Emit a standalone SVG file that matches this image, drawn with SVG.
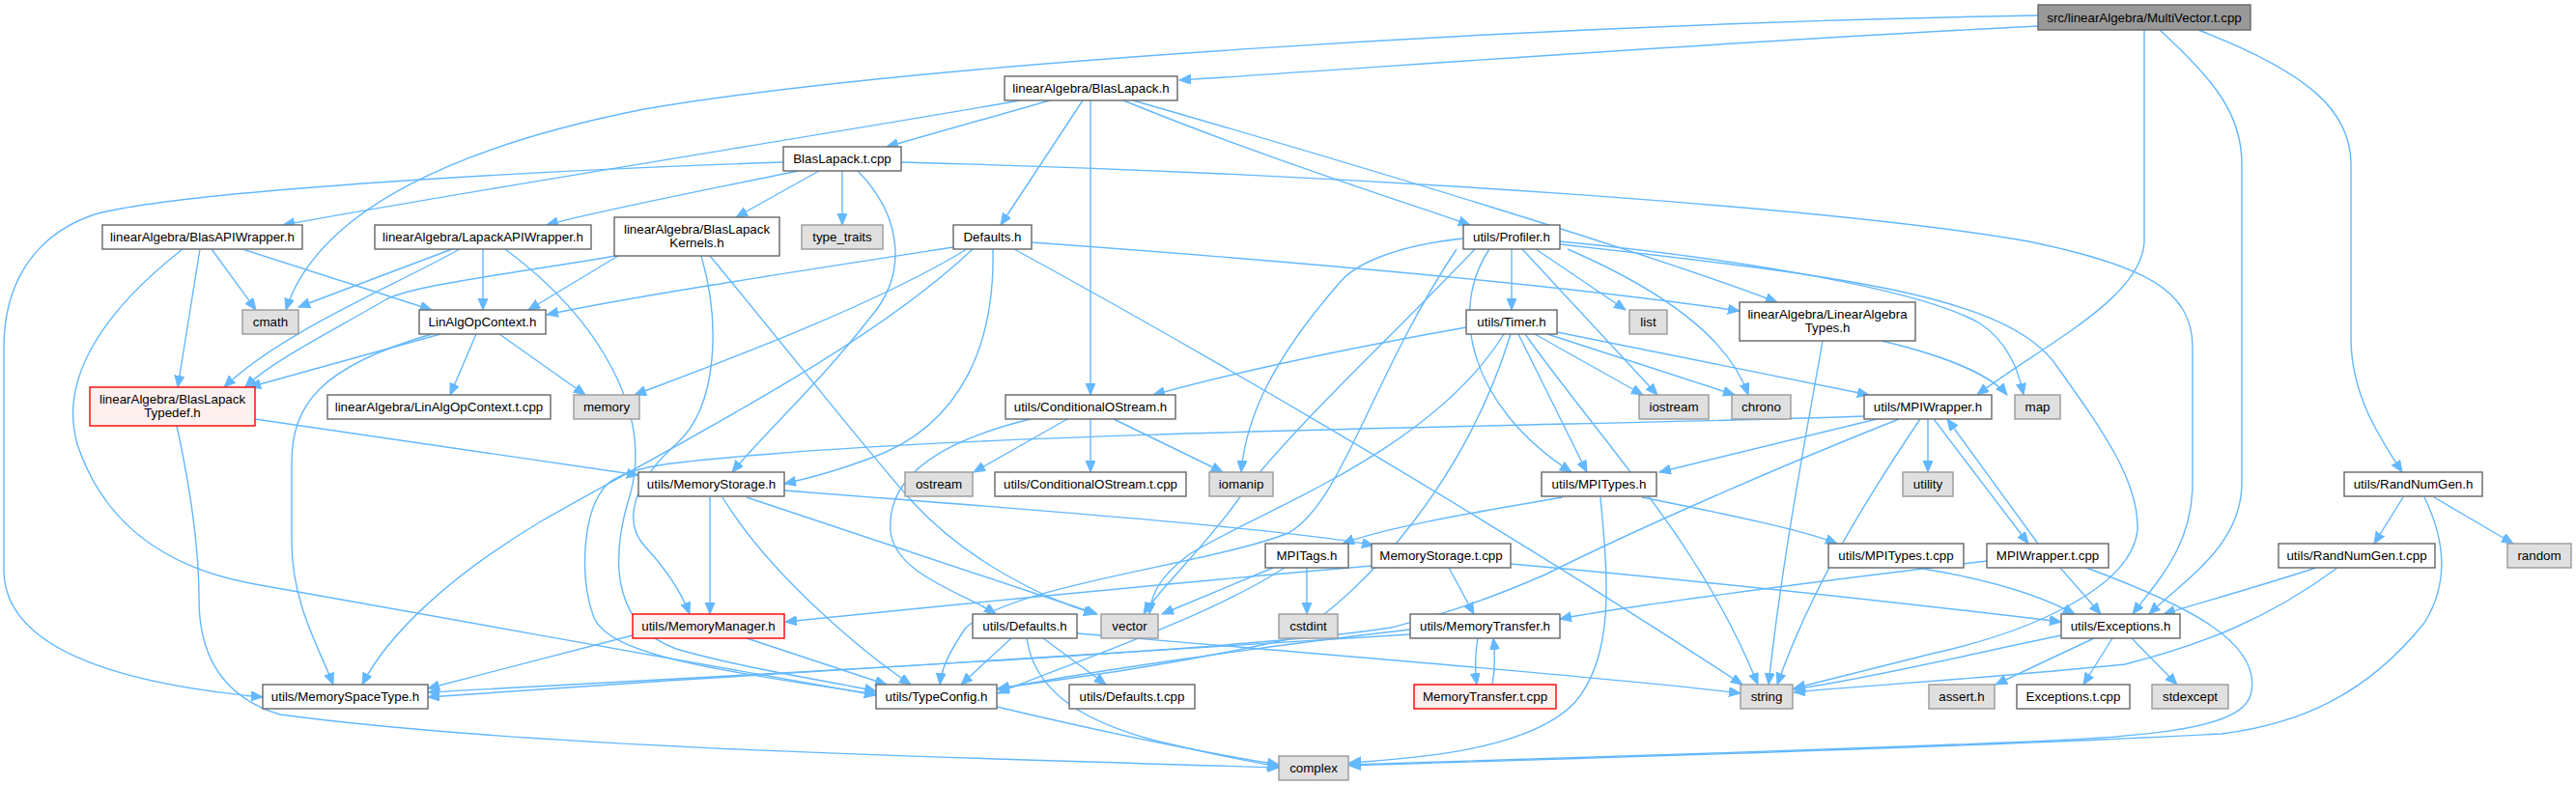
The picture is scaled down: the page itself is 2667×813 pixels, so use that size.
<svg xmlns="http://www.w3.org/2000/svg" width="2667" height="813" viewBox="0 0 2667 813">
<defs>
<marker id="a" markerWidth="14" markerHeight="11" refX="12" refY="5" orient="auto" markerUnits="userSpaceOnUse"><path d="M0,0 L12,5 L0,10 z" fill="#63b8ff" stroke="#63b8ff" stroke-width="1"/></marker>
<style>
.e path{fill:none;stroke:#63b8ff;stroke-width:1.4;marker-end:url(#a)}
.n rect{fill:#ffffff;stroke:#666666;stroke-width:1.4}
.g rect{fill:#e0e0e0;stroke:#999999;stroke-width:1.4}
.r rect{fill:#fff0f0;stroke:#ff0000;stroke-width:1.4}
.root rect{fill:#999999;stroke:#666666;stroke-width:1.4}
text{font-family:"Liberation Sans",Arial,sans-serif;font-size:13.33px;text-anchor:middle;fill:#000000}
</style>
</defs>
<rect width="2667" height="813" fill="#ffffff"/>
<g id="edges" class="e">
<path d="M2110,27 C1750,45 1400,72 1221,83"/>
<path d="M2110,16 C1600,25 950,65 667,113 C480,150 330,215 296,321"/>
<path d="M2220,31 L2220,250 C2218,310 2110,360 2047,409"/>
<path d="M2236,31 C2295,85 2321,120 2321,170 L2321,500 C2321,565 2262,600 2225,636"/>
<path d="M2276,31 C2390,75 2434,115 2434,170 L2434,350 C2434,410 2465,455 2487,489"/>
<path d="M1056,104 C900,132 500,195 293,233"/>
<path d="M1087,104 L918,152"/>
<path d="M1121,104 L1036,233"/>
<path d="M1129,104 L1129,409"/>
<path d="M1163,104 C1300,160 1450,208 1522,233"/>
<path d="M1173,104 C1420,175 1700,260 1840,313"/>
<path d="M811,168 C600,175 200,195 98,222 C30,245 4,300 4,360 L4,590 C4,660 90,705 272,722"/>
<path d="M826,177 C740,195 620,218 566,233"/>
<path d="M848,177 L762,225"/>
<path d="M872,177 L872,233"/>
<path d="M888,177 C935,225 940,285 900,330 C850,395 790,450 758,489"/>
<path d="M933,168 C1400,180 1900,215 2100,250 C2220,275 2270,300 2270,360 L2270,500 C2270,565 2235,600 2208,636"/>
<path d="M207,258 L184,401"/>
<path d="M219,258 L265,321"/>
<path d="M251,258 L447,321"/>
<path d="M189,258 C110,320 60,390 80,460 C110,550 180,590 264,605 C450,640 750,690 907,720"/>
<path d="M468,258 L309,318"/>
<path d="M476,258 C400,300 290,345 232,401"/>
<path d="M500,258 L500,321"/>
<path d="M523,258 C620,330 680,430 650,520 C630,590 640,650 700,672 C780,695 860,705 907,716"/>
<path d="M640,265 L547,321"/>
<path d="M650,263 C520,285 430,295 400,310 C340,345 280,375 254,401"/>
<path d="M726,265 C745,330 745,420 700,460 C655,500 645,540 667,565 C690,590 706,615 714,636"/>
<path d="M735,265 C830,380 900,470 945,520 C1000,580 1080,620 1134,636"/>
<path d="M456,346 L258,401"/>
<path d="M493,346 L466,409"/>
<path d="M517,346 L606,409"/>
<path d="M447,346 C330,380 302,420 302,480 L302,560 C302,625 330,670 345,709"/>
<path d="M183,441 C198,510 206,570 206,620 C206,690 240,725 290,740 C550,775 1000,785 1324,795"/>
<path d="M264,434 L661,492"/>
<path d="M987,256 C800,285 650,308 566,326"/>
<path d="M1068,251 C1400,275 1650,300 1801,322"/>
<path d="M1001,258 C900,320 720,385 657,409"/>
<path d="M1007,258 C900,360 700,460 560,540 C460,600 400,660 375,709"/>
<path d="M1028,258 C1030,350 1000,440 900,475 C860,490 830,497 812,501"/>
<path d="M1050,258 C1200,340 1500,510 1804,709"/>
<path d="M1515,247 C1440,255 1400,275 1385,295 C1320,370 1290,430 1285,489"/>
<path d="M1565,258 L1565,321"/>
<path d="M1590,258 L1683,321"/>
<path d="M1576,258 L1716,409"/>
<path d="M1623,258 C1720,300 1790,350 1810,409"/>
<path d="M1615,250 C1800,268 1990,300 2050,335 C2080,355 2090,385 2095,409"/>
<path d="M1615,253 C1900,285 2080,305 2130,380 C2180,450 2215,500 2213,550 C2205,610 2100,655 2000,677 C1930,695 1890,705 1857,713"/>
<path d="M1542,258 C1500,320 1520,420 1627,489"/>
<path d="M1527,258 C1450,340 1330,450 1280,520 C1240,575 1200,610 1184,636"/>
<path d="M1508,258 C1420,390 1390,520 1334,552 C1250,585 1050,605 1000,650 C985,672 975,690 973,709"/>
<path d="M1518,339 C1400,360 1280,385 1194,409"/>
<path d="M1572,346 L1643,489"/>
<path d="M1579,346 C1660,460 1760,560 1820,709"/>
<path d="M1589,346 L1701,409"/>
<path d="M1602,346 L1796,409"/>
<path d="M1612,344 L1935,409"/>
<path d="M1557,346 C1480,470 1300,530 1230,575 C1200,598 1192,615 1190,636"/>
<path d="M1564,346 C1520,490 1420,610 1334,662 C1200,692 1080,706 1033,713"/>
<path d="M1948,353 C2020,370 2062,390 2078,409"/>
<path d="M1887,353 C1870,450 1845,580 1831,709"/>
<path d="M1105,434 L1008,489"/>
<path d="M1129,434 L1129,489"/>
<path d="M1153,434 L1266,489"/>
<path d="M1067,434 C960,460 918,500 922,550 C926,595 1000,615 1031,636"/>
<path d="M1943,434 L1718,489"/>
<path d="M1930,431 C1700,440 1100,445 800,470 C700,478 650,482 628,502 C602,530 600,600 615,640 C632,676 720,692 907,719"/>
<path d="M1996,434 L1996,489"/>
<path d="M1988,434 C1930,520 1875,610 1840,709"/>
<path d="M1966,434 C1850,480 1700,545 1600,595 C1520,630 1470,642 1440,650 C1300,672 900,692 443,717"/>
<path d="M2002,434 L2100,563"/>
<path d="M2110,563 L2016,434"/>
<path d="M1618,515 C1500,535 1430,548 1390,563"/>
<path d="M1657,515 C1665,600 1672,680 1630,728 C1580,780 1450,786 1397,790"/>
<path d="M1700,515 C1800,535 1870,550 1902,563"/>
<path d="M1318,588 L1203,636"/>
<path d="M1353,588 L1353,636"/>
<path d="M1330,588 C1250,640 1100,690 1033,718"/>
<path d="M1420,586 C1200,605 950,630 813,644"/>
<path d="M1500,588 L1526,636"/>
<path d="M1564,584 C1800,605 2000,628 2134,644"/>
<path d="M735,515 L735,636"/>
<path d="M748,515 C800,600 900,680 943,709"/>
<path d="M773,515 L1136,636"/>
<path d="M812,508 C1100,530 1350,550 1422,565"/>
<path d="M655,658 L443,713"/>
<path d="M773,661 L918,709"/>
<path d="M1047,661 L995,709"/>
<path d="M1080,661 L1145,709"/>
<path d="M1063,661 C1070,710 1110,745 1200,768 C1260,782 1300,790 1324,794"/>
<path d="M1115,656 C1400,680 1700,705 1802,718"/>
<path d="M1032,732 C1150,760 1250,780 1324,792"/>
<path d="M1530,661 C1527,678 1527,695 1529,709"/>
<path d="M1545,709 C1548,692 1548,676 1546,661"/>
<path d="M1460,657 C1200,672 800,697 443,722"/>
<path d="M1460,652 C1300,670 1100,700 1033,714"/>
<path d="M1985,588 C2060,600 2115,618 2148,636"/>
<path d="M2057,581 C1900,600 1700,625 1615,641"/>
<path d="M2133,588 L2175,636"/>
<path d="M2160,588 C2260,625 2345,665 2330,720 C2318,760 2200,765 2000,772 C1800,780 1500,788 1397,792"/>
<path d="M2488,515 L2458,563"/>
<path d="M2520,515 L2602,563"/>
<path d="M2510,515 C2532,560 2535,605 2510,645 C2450,720 2380,750 2300,760 C2000,776 1600,786 1397,793"/>
<path d="M2398,588 C2330,610 2275,625 2240,636"/>
<path d="M2420,588 C2350,640 2280,668 2200,688 C2050,703 1930,710 1857,717"/>
<path d="M2134,658 C2050,675 1950,700 1857,714"/>
<path d="M2168,661 L2066,709"/>
<path d="M2187,661 L2157,709"/>
<path d="M2207,661 L2254,709"/>
</g>
<g id="n_root" class="root"><rect x="2110" y="5" width="220" height="26"/><text x="2220" y="22.7">src/linearAlgebra/MultiVector.t.cpp</text></g>
<g id="n_blaslapack_h" class="n"><rect x="1040" y="79" width="179" height="25"/><text x="1129.5" y="96.2">linearAlgebra/BlasLapack.h</text></g>
<g id="n_blaslapack_tcpp" class="n"><rect x="811" y="152" width="122" height="25"/><text x="872" y="169.2">BlasLapack.t.cpp</text></g>
<g id="n_blasapi" class="n"><rect x="106" y="233" width="207" height="25"/><text x="209.5" y="250.2">linearAlgebra/BlasAPIWrapper.h</text></g>
<g id="n_lapackapi" class="n"><rect x="388" y="233" width="224" height="25"/><text x="500" y="250.2">linearAlgebra/LapackAPIWrapper.h</text></g>
<g id="n_kernels" class="n"><rect x="636" y="225" width="171" height="40"/><text x="721.5" y="241.7">linearAlgebra/BlasLapack</text><text x="721.5" y="255.7">Kernels.h</text></g>
<g id="n_type_traits" class="g"><rect x="830" y="233" width="84" height="25"/><text x="872" y="250.2">type_traits</text></g>
<g id="n_defaults_h" class="n"><rect x="987" y="233" width="81" height="25"/><text x="1027.5" y="250.2">Defaults.h</text></g>
<g id="n_profiler" class="n"><rect x="1515" y="233" width="100" height="25"/><text x="1565" y="250.2">utils/Profiler.h</text></g>
<g id="n_cmath" class="g"><rect x="251" y="321" width="58" height="25"/><text x="280" y="338.2">cmath</text></g>
<g id="n_linalgopcontext" class="n"><rect x="434" y="321" width="131" height="25"/><text x="499.5" y="338.2">LinAlgOpContext.h</text></g>
<g id="n_typedef" class="r"><rect x="93" y="401" width="171" height="40"/><text x="178.5" y="417.7">linearAlgebra/BlasLapack</text><text x="178.5" y="431.7">Typedef.h</text></g>
<g id="n_linalgopcontext_tcpp" class="n"><rect x="339" y="409" width="231" height="25"/><text x="454.5" y="426.2">linearAlgebra/LinAlgOpContext.t.cpp</text></g>
<g id="n_memory" class="g"><rect x="594" y="409" width="68" height="25"/><text x="628" y="426.2">memory</text></g>
<g id="n_memorystorage_h" class="n"><rect x="661" y="489" width="151" height="25"/><text x="736.5" y="506.2">utils/MemoryStorage.h</text></g>
<g id="n_condostream_h" class="n"><rect x="1041" y="409" width="176" height="25"/><text x="1129" y="426.2">utils/ConditionalOStream.h</text></g>
<g id="n_ostream" class="g"><rect x="937" y="489" width="70" height="25"/><text x="972" y="506.2">ostream</text></g>
<g id="n_condostream_tcpp" class="n"><rect x="1030" y="489" width="198" height="25"/><text x="1129" y="506.2">utils/ConditionalOStream.t.cpp</text></g>
<g id="n_iomanip" class="g"><rect x="1252" y="489" width="66" height="25"/><text x="1285" y="506.2">iomanip</text></g>
<g id="n_timer" class="n"><rect x="1518" y="321" width="94" height="25"/><text x="1565" y="338.2">utils/Timer.h</text></g>
<g id="n_list" class="g"><rect x="1687" y="321" width="39" height="25"/><text x="1706.5" y="338.2">list</text></g>
<g id="n_latypes" class="n"><rect x="1801" y="313" width="182" height="40"/><text x="1892" y="329.7">linearAlgebra/LinearAlgebra</text><text x="1892" y="343.7">Types.h</text></g>
<g id="n_iostream" class="g"><rect x="1697" y="409" width="72" height="25"/><text x="1733" y="426.2">iostream</text></g>
<g id="n_chrono" class="g"><rect x="1793" y="409" width="61" height="25"/><text x="1823.5" y="426.2">chrono</text></g>
<g id="n_mpiwrapper_h" class="n"><rect x="1930" y="409" width="132" height="25"/><text x="1996" y="426.2">utils/MPIWrapper.h</text></g>
<g id="n_map" class="g"><rect x="2086" y="409" width="47" height="25"/><text x="2109.5" y="426.2">map</text></g>
<g id="n_utility" class="g"><rect x="1970" y="489" width="52" height="25"/><text x="1996" y="506.2">utility</text></g>
<g id="n_mpitypes_h" class="n"><rect x="1596" y="489" width="119" height="25"/><text x="1655.5" y="506.2">utils/MPITypes.h</text></g>
<g id="n_randnumgen_h" class="n"><rect x="2427" y="489" width="143" height="25"/><text x="2498.5" y="506.2">utils/RandNumGen.h</text></g>
<g id="n_memspacetype" class="n"><rect x="272" y="709" width="171" height="25"/><text x="357.5" y="726.2">utils/MemorySpaceType.h</text></g>
<g id="n_memmanager" class="r"><rect x="655" y="636" width="157" height="25"/><text x="733.5" y="653.2">utils/MemoryManager.h</text></g>
<g id="n_utils_defaults_h" class="n"><rect x="1007" y="636" width="108" height="25"/><text x="1061" y="653.2">utils/Defaults.h</text></g>
<g id="n_vector" class="g"><rect x="1140" y="636" width="59" height="25"/><text x="1169.5" y="653.2">vector</text></g>
<g id="n_typeconfig" class="n"><rect x="907" y="709" width="125" height="25"/><text x="969.5" y="726.2">utils/TypeConfig.h</text></g>
<g id="n_utils_defaults_tcpp" class="n"><rect x="1107" y="709" width="130" height="25"/><text x="1172" y="726.2">utils/Defaults.t.cpp</text></g>
<g id="n_mpitags" class="n"><rect x="1310" y="563" width="86" height="25"/><text x="1353" y="580.2">MPITags.h</text></g>
<g id="n_cstdint" class="g"><rect x="1324" y="636" width="61" height="25"/><text x="1354.5" y="653.2">cstdint</text></g>
<g id="n_complex" class="g"><rect x="1324" y="783" width="72" height="25"/><text x="1360" y="800.2">complex</text></g>
<g id="n_memorystorage_tcpp" class="n"><rect x="1420" y="563" width="144" height="25"/><text x="1492" y="580.2">MemoryStorage.t.cpp</text></g>
<g id="n_memtransfer_h" class="n"><rect x="1460" y="636" width="155" height="25"/><text x="1537.5" y="653.2">utils/MemoryTransfer.h</text></g>
<g id="n_memtransfer_tcpp" class="r"><rect x="1464" y="709" width="147" height="25"/><text x="1537.5" y="726.2">MemoryTransfer.t.cpp</text></g>
<g id="n_string" class="g"><rect x="1802" y="709" width="54" height="25"/><text x="1829" y="726.2">string</text></g>
<g id="n_mpitypes_tcpp" class="n"><rect x="1893" y="563" width="140" height="25"/><text x="1963" y="580.2">utils/MPITypes.t.cpp</text></g>
<g id="n_mpiwrapper_tcpp" class="n"><rect x="2057" y="563" width="126" height="25"/><text x="2120" y="580.2">MPIWrapper.t.cpp</text></g>
<g id="n_randnumgen_tcpp" class="n"><rect x="2359" y="563" width="162" height="25"/><text x="2440" y="580.2">utils/RandNumGen.t.cpp</text></g>
<g id="n_random" class="g"><rect x="2596" y="563" width="66" height="25"/><text x="2629" y="580.2">random</text></g>
<g id="n_exceptions_h" class="n"><rect x="2134" y="636" width="123" height="25"/><text x="2195.5" y="653.2">utils/Exceptions.h</text></g>
<g id="n_assert" class="g"><rect x="1997" y="709" width="68" height="25"/><text x="2031" y="726.2">assert.h</text></g>
<g id="n_exceptions_tcpp" class="n"><rect x="2088" y="709" width="117" height="25"/><text x="2146.5" y="726.2">Exceptions.t.cpp</text></g>
<g id="n_stdexcept" class="g"><rect x="2228" y="709" width="79" height="25"/><text x="2267.5" y="726.2">stdexcept</text></g>
</svg>
